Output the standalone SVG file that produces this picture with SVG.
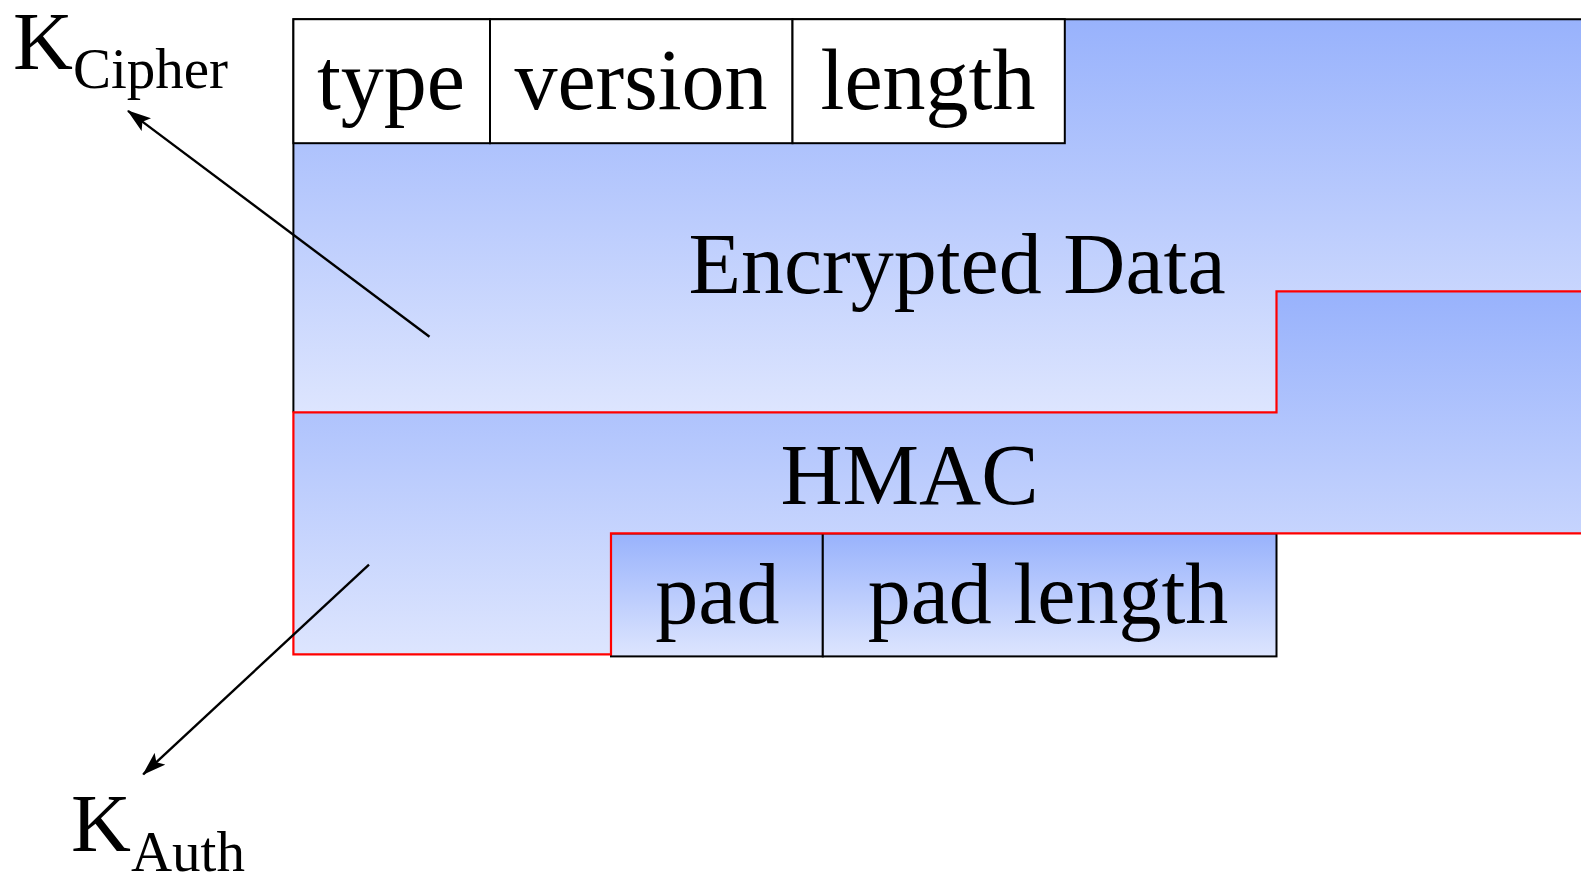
<svg xmlns="http://www.w3.org/2000/svg" width="1581" height="876" viewBox="0 0 1581 876">
<defs>
<linearGradient id="blue" x1="0" y1="0" x2="0" y2="1">
<stop offset="0" stop-color="#98b2fc"/>
<stop offset="1" stop-color="#dde5fe"/>
</linearGradient>
<marker id="arr" viewBox="0 0 24 16" refX="23" refY="8" markerWidth="24" markerHeight="16" markerUnits="userSpaceOnUse" orient="auto">
<path d="M0,0 L24,8 L0,16 L5,8 z" fill="#000"/>
</marker>
<style>
text{font-family:"Liberation Serif","Times New Roman",serif;fill:#000}
.big{font-size:86px;text-anchor:middle}
.k{font-size:83px}
.sub{font-size:57px}
.cell{fill:#fff;stroke:#000;stroke-width:2}
.pcell{fill:url(#blue);stroke:#000;stroke-width:2}
.conn{stroke:#000;stroke-width:2.4;fill:none;marker-end:url(#arr)}
</style>
</defs>
<rect width="1581" height="876" fill="#fff"/>

<g id="encrypted-data">
<rect x="293.4" y="19.2" width="1300" height="393.2" fill="url(#blue)"/>
<path d="M293.4,412.4 V19.2 H1590" fill="none" stroke="#000" stroke-width="2"/>
<text class="big" x="957" y="293">Encrypted Data</text>
</g>

<g id="type">
<rect class="cell" x="293.4" y="19.2" width="196.6" height="124"/>
<text class="big" x="391" y="109">type</text>
</g>
<g id="version">
<rect class="cell" x="490" y="19.2" width="302.5" height="124"/>
<text class="big" x="641" y="109">version</text>
</g>
<g id="length">
<rect class="cell" x="792.5" y="19.2" width="272.3" height="124"/>
<text class="big" x="928" y="109">length</text>
</g>

<g id="pad">
<rect class="pcell" x="611" y="533.4" width="211.8" height="123"/>
<text class="big" x="717.4" y="623">pad</text>
</g>
<g id="pad-length">
<rect class="pcell" x="822.8" y="533.4" width="453.7" height="123"/>
<text class="big" x="1048" y="623">pad length</text>
</g>

<g id="hmac">
<path d="M1276.5,291.4 H1590 V533.4 H611 V654.4 H293.4 V412.4 H1276.5 Z" fill="url(#blue)" stroke="#ff0000" stroke-width="2.2"/>
<text class="big" x="909.5" y="504">HMAC</text>
</g>

<g id="k-cipher">
<text x="13" y="69"><tspan class="k">K</tspan><tspan class="sub" dy="19">Cipher</tspan></text>
</g>
<g id="k-auth">
<text x="71" y="851"><tspan class="k">K</tspan><tspan class="sub" dy="20">Auth</tspan></text>
</g>

<g id="connectors">
<line class="conn" x1="429.5" y1="336.8" x2="128" y2="110.9"/>
<line class="conn" x1="369" y1="564.6" x2="143.2" y2="774.4"/>
</g>
</svg>
